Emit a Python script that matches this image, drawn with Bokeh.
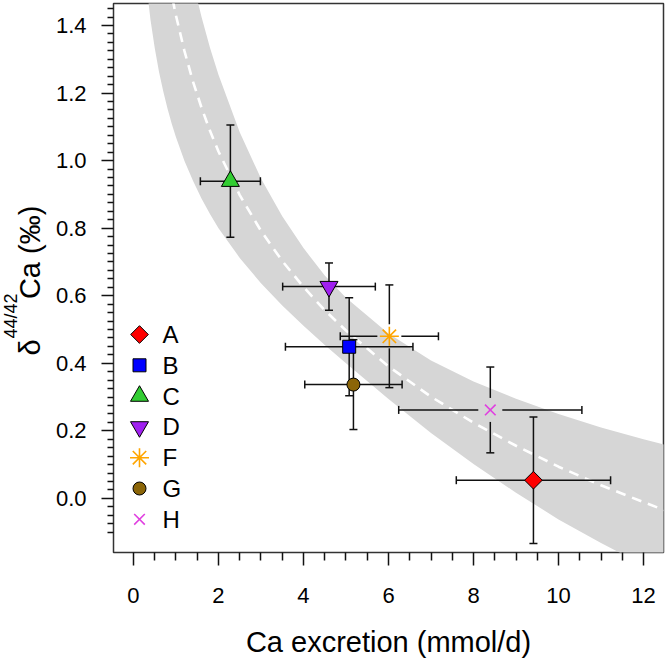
import numpy as np
from bokeh.plotting import figure
from bokeh.models import ColumnDataSource, FixedTicker, PrintfTickFormatter, Label
from bokeh.core.properties import value
from bokeh.embed import file_html
from bokeh.resources import INLINE

# ---------------- data ----------------
groups = ["A", "B", "C", "D", "F", "G", "H"]
ca_excretion = [9.41, 5.075, 2.28, 4.60, 6.02, 5.175, 8.395]        # mmol/d
ca_excretion_err = [1.815, 1.50, 0.706, 1.09, 1.155, 1.145, 2.155]
delta_ca = [0.054, 0.449, 0.939, 0.627, 0.480, 0.337, 0.262]          # permil
delta_ca_err = [0.187, 0.145, 0.166, 0.070, 0.152, 0.133, 0.127]

# fitted curve and its grey band at these x values
fit_x = [0.3, 0.4, 0.5, 0.6, 0.7, 0.8, 0.9, 1.0, 1.2, 1.4, 1.6, 1.8, 2.0, 2.5,
         3.0, 3.5, 4.0, 4.5, 5.0, 6.0, 7.0, 8.0, 9.0, 10.0, 11.0, 12.0, 12.5]
fit_mid = [2.127, 1.960, 1.831, 1.725, 1.636, 1.558, 1.490, 1.429, 1.324, 1.234,
           1.157, 1.088, 1.027, 0.898, 0.792, 0.703, 0.626, 0.557, 0.497, 0.391,
           0.301, 0.224, 0.156, 0.094, 0.039, -0.011, -0.035]
fit_upper = [2.728, 2.503, 2.329, 2.187, 2.067, 1.962, 1.871, 1.789, 1.649, 1.528,
             1.426, 1.334, 1.254, 1.084, 0.947, 0.835, 0.741, 0.660, 0.594, 0.488,
             0.408, 0.346, 0.295, 0.250, 0.210, 0.175, 0.159]
fit_lower = [1.526, 1.417, 1.333, 1.263, 1.205, 1.154, 1.109, 1.069, 0.999, 0.940,
             0.888, 0.842, 0.800, 0.712, 0.637, 0.571, 0.511, 0.454, 0.400, 0.294,
             0.194, 0.102, 0.017, -0.062, -0.132, -0.197, -0.229]

x_ticks = [0, 2, 4, 6, 8, 10, 12]
y_ticks = [0.0, 0.2, 0.4, 0.6, 0.8, 1.0, 1.2, 1.4]

# ---------------- styles ----------------
marker_kind = ["square", "square", "triangle", "inverted_triangle", "asterisk", "circle", "x"]
marker_angle = [np.pi / 4, 0, 0, 0, 0, 0, 0]
marker_size = [12.5, 13, 18, 18, 19, 13, 15]
marker_fill = ["#FF0000", "#0000FF", "#32CD32", "#A020F0", "#FFA500", "#8B6508", "#E040E0"]
hollow = [False, False, False, False, True, False, True]
marker_line = ["#FFA500" if g == "F" else ("#E040E0" if g == "H" else "black")
               for g in groups]
marker_lw = [1.6 if h else 1.0 for h in hollow]

FONT = "Liberation Sans"
X0, X1 = -0.47, 12.47
Y0, Y1 = -0.160, 1.465
W, H = 666, 661
BL, BR, BT, BB = 113, 3, 3, 109
frame_w = W - BL - BR
frame_h = H - BT - BB
px_x = frame_w / (X1 - X0)
px_y = frame_h / (Y1 - Y0)


def x_from_px(px):
    return X0 + (px - BL) / px_x


def y_from_px(py):
    return Y1 - (py - BT) / px_y


p = figure(width=W, height=H, x_range=(X0, X1), y_range=(Y0, Y1),
           output_backend="svg", toolbar_location=None,
           min_border_left=BL, min_border_right=BR, min_border_top=BT,
           min_border_bottom=BB)
p.grid.visible = False
p.outline_line_color = "#333333"
p.outline_line_width = 1.5
p.background_fill_color = "white"
p.border_fill_color = "white"

# band + fitted line
band = ColumnDataSource(dict(x=fit_x, lo=fit_lower, hi=fit_upper, mid=fit_mid))
p.varea(x="x", y1="lo", y2="hi", source=band, fill_color="#D6D6D6")
p.line(x="x", y="mid", source=band, line_color="white", line_width=2.6,
       line_dash="10 7")

# error bars (gap around the open symbols)
gap_px = [12 if h else 0 for h in hollow]
xs = np.array(ca_excretion)
ys = np.array(delta_ca)
xe = np.array(ca_excretion_err)
ye = np.array(delta_ca_err)
gx = np.array(gap_px) / px_x
gy = np.array(gap_px) / px_y

seg = ColumnDataSource(dict(
    x0=np.concatenate([xs - xe, xs + gx, xs, xs]),
    x1=np.concatenate([xs - gx, xs + xe, xs, xs]),
    y0=np.concatenate([ys, ys, ys + ye, ys - gy]),
    y1=np.concatenate([ys, ys, ys + gy, ys - ye]),
))
p.segment(x0="x0", y0="y0", x1="x1", y1="y1", source=seg,
          line_color="#111111", line_width=1.5)
caps_v = ColumnDataSource(dict(x=np.concatenate([xs, xs]),
                               y=np.concatenate([ys + ye, ys - ye])))
p.scatter(x="x", y="y", source=caps_v, marker="dash", size=8,
          line_color="#111111", line_width=1.5)
caps_h = ColumnDataSource(dict(x=np.concatenate([xs - xe, xs + xe]),
                               y=np.concatenate([ys, ys])))
p.scatter(x="x", y="y", source=caps_h, marker="dash", size=8, angle=np.pi / 2,
          line_color="#111111", line_width=1.5)

# points
pts = ColumnDataSource(dict(x=ca_excretion, y=delta_ca, marker=marker_kind,
                            angle=marker_angle, size=marker_size,
                            fill=marker_fill, line=marker_line, lw=marker_lw))
p.scatter(x="x", y="y", source=pts, marker="marker", angle="angle", size="size",
          fill_color="fill", line_color="line", line_width="lw")

# legend (top-left, inside the frame)
leg_x_marker = x_from_px(139)
leg_x_text = x_from_px(162)
leg_y = [y_from_px(334 + 30.8 * i) for i in range(len(groups))]
leg = ColumnDataSource(dict(xm=[leg_x_marker] * len(groups), xt=[leg_x_text] * len(groups),
                            y=leg_y, label=groups, marker=marker_kind,
                            angle=marker_angle, size=marker_size, fill=marker_fill,
                            line=marker_line, lw=marker_lw))
p.scatter(x="xm", y="y", source=leg, marker="marker", angle="angle", size="size",
          fill_color="fill", line_color="line", line_width="lw")
p.text(x="xt", y="y", text="label", source=leg, text_font=value(FONT),
       text_font_size="24px", text_baseline="middle", text_align="left",
       text_color="black")

# axes
xax = p.xaxis[0]
xax.ticker = FixedTicker(ticks=x_ticks,
                         minor_ticks=[v for v in np.arange(0, 12.01, 0.5) if v % 2 != 0])
xax.axis_line_color = None
xax.major_tick_in = 0
xax.minor_tick_in = 0
xax.major_tick_out = 13
xax.minor_tick_out = 8
xax.major_tick_line_width = 1.5
xax.minor_tick_line_width = 1.5
xax.major_tick_line_color = "#111111"
xax.minor_tick_line_color = "#111111"
xax.major_label_text_font = FONT
xax.major_label_text_font_size = "22px"
xax.major_label_text_color = "black"
xax.major_label_standoff = 22
xax.axis_label = "Ca excretion (mmol/d)"
xax.axis_label_text_font = FONT
xax.axis_label_text_font_size = "29px"
xax.axis_label_text_font_style = "normal"
xax.axis_label_text_color = "black"
xax.axis_label_standoff = 20

yax = p.yaxis[0]
ymin = [round(v, 3) for v in np.arange(-0.1, 1.4501, 0.025)]
ymin = [v for v in ymin if all(abs(v - t) > 1e-6 for t in y_ticks)]
yax.ticker = FixedTicker(ticks=y_ticks, minor_ticks=ymin)
yax.formatter = PrintfTickFormatter(format="%.1f")
yax.axis_line_color = None
yax.major_tick_in = 0
yax.minor_tick_in = 0
yax.major_tick_out = 12
yax.minor_tick_out = 6
yax.major_tick_line_width = 1.5
yax.minor_tick_line_width = 1.5
yax.major_tick_line_color = "#111111"
yax.minor_tick_line_color = "#111111"
yax.major_label_text_font = FONT
yax.major_label_text_font_size = "22px"
yax.major_label_text_color = "black"
yax.major_label_standoff = 15

# y-axis title (delta with superscript 44/42), rotated labels in the left panel
NBSP = "\u00a0"
main_title = Label(x=x_from_px(29), y=y_from_px(355),
                   text="\u03b4" + NBSP * 5 + "Ca (\u2030)", angle=np.pi / 2,
                   text_font=FONT, text_font_size="29px", text_color="black",
                   text_align="left", text_baseline="alphabetic")
sup_title = Label(x=x_from_px(10), y=y_from_px(338),
                  text="44/42", angle=np.pi / 2,
                  text_font=FONT, text_font_size="18px", text_color="black",
                  text_align="left", text_baseline="alphabetic")
p.add_layout(main_title, "left")
p.add_layout(sup_title, "left")

open("out.html", "w").write(file_html(p, INLINE))
